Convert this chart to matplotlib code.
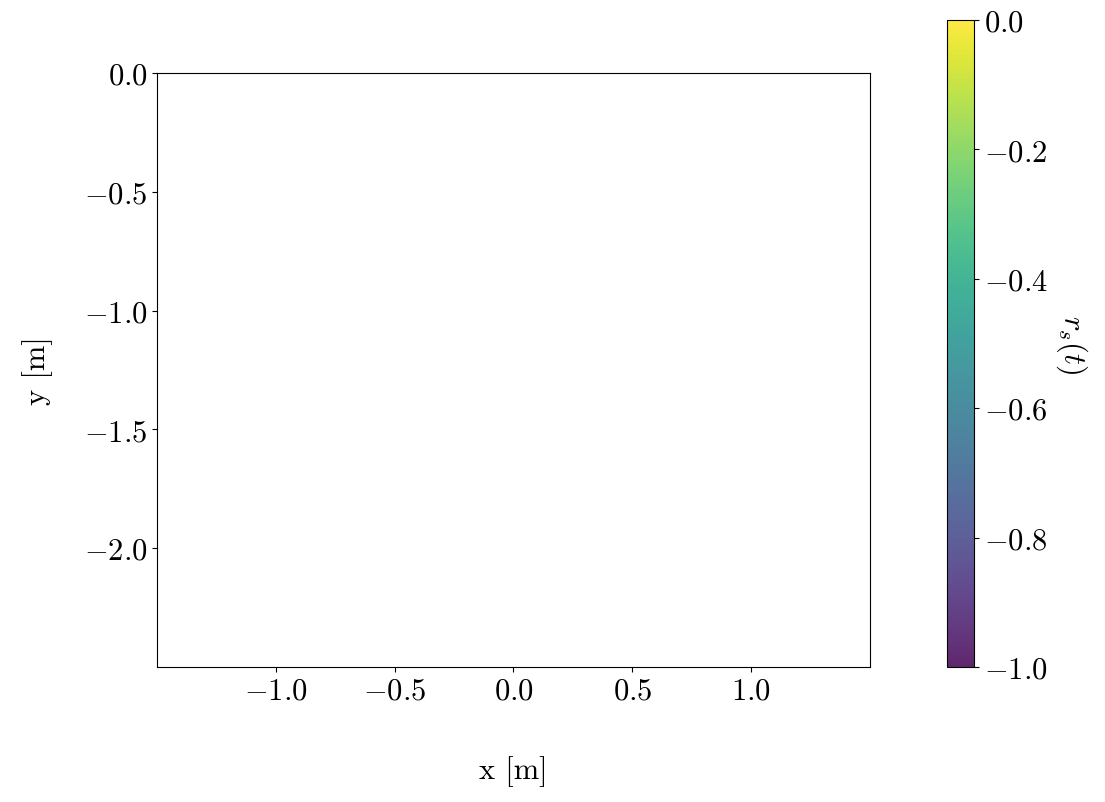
import matplotlib
matplotlib.use("Agg")
import matplotlib.pyplot as plt
import numpy as np
from matplotlib import cm, colors

plt.rcParams['font.family'] = 'serif'
plt.rcParams['font.serif'] = ['cmr10']
plt.rcParams['mathtext.fontset'] = 'cm'
plt.rcParams['axes.formatter.use_mathtext'] = True
plt.rcParams['font.size'] = 22

xlim = [-1.5, 1.5]
ylim = [-2.5, 0.0]
xticks = [-1.0, -0.5, 0.0, 0.5, 1.0]
yticks = [0.0, -0.5, -1.0, -1.5, -2.0]
cbar_range = [-1.0, 0.0]
cbar_ticks = [-1.0, -0.8, -0.6, -0.4, -0.2, 0.0]

fig = plt.figure(figsize=(11.05, 8.03), dpi=100)
ax = fig.add_axes([0.1421, 0.1681, 0.6452, 0.7397])
ax.set_xlim(xlim)
ax.set_ylim(ylim)
ax.set_aspect('equal')
ax.set_xticks(xticks)
ax.set_yticks(yticks)
ax.set_xlabel('x [m]', labelpad=37)
ax.set_ylabel('y [m]', labelpad=22)

cax = fig.add_axes([0.857, 0.1681, 0.0244, 0.8057])
sm = cm.ScalarMappable(norm=colors.Normalize(*cbar_range), cmap='viridis')
cb = fig.colorbar(sm, cax=cax, ticks=cbar_ticks, alpha=0.85)
cb.set_label(r'$r_s(t)$', rotation=270, labelpad=30)

fig.savefig('out.png', dpi=100)
